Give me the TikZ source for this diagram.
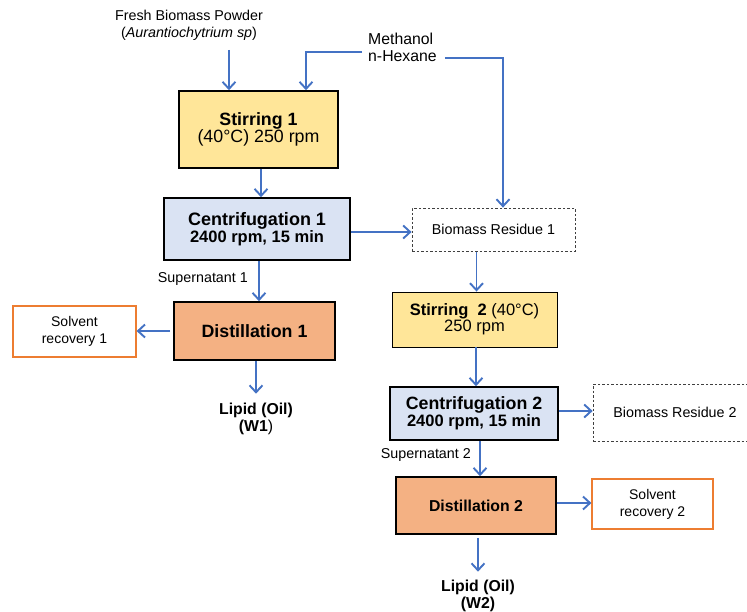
\documentclass[tikz,border=0pt]{standalone}
\usepackage{fontspec}
\setmainfont{Liberation Sans}
\usetikzlibrary{arrows.meta,calc}
\definecolor{arrblue}{HTML}{4472C4}
\definecolor{yelfill}{HTML}{FFE699}
\definecolor{bluefill}{HTML}{DAE3F3}
\definecolor{orfill}{HTML}{F4B183}
\definecolor{orline}{HTML}{ED7D31}
\newcommand{\fs}[2]{\fontsize{#1}{#2}\selectfont}
\begin{document}
\begin{tikzpicture}[x=1pt,y=-1pt,
  arr/.style={draw=arrblue,line width=1.9pt,-{Straight Barb[length=7pt,width=13pt]}},
  procbox/.style={draw=black,line width=1.6pt,align=center,inner sep=0pt},
  dashbox/.style={draw=black!75,line width=0.8pt,dash pattern=on 2.5pt off 2pt,align=center,inner sep=0pt,fill=white},
  recbox/.style={draw=orline,line width=1.2pt,align=center,inner sep=0pt,fill=white,font=\fs{14}{17}},
  lbl/.style={align=center,inner sep=0pt}]
\useasboundingbox (0,0) rectangle (747,611);
\fill[white] (0,0) rectangle (747,611);

% inputs
\node[lbl,font=\fs{14.3}{17}] (fresh) at (189,25.5) {Fresh Biomass Powder\\(\textit{Aurantiochytrium sp})};
\node[lbl,align=left,anchor=west,font=\fs{15.8}{17}] (meth) at (368,47.5) {Methanol\\n-Hexane};

% process boxes
\node[procbox,fill=yelfill,minimum width=159pt,minimum height=77pt] (s1) at (258.5,129.5)
  {\fs{17.8}{21}\textbf{Stirring 1}\\\fs{17.8}{21}(40°C) 250 rpm};
\node[procbox,fill=bluefill,minimum width=186pt,minimum height=62pt] (c1) at (257,229)
  {\fs{18}{20}\textbf{Centrifugation 1}\\\fs{16.5}{20}\textbf{2400 rpm, 15 min}};
\node[dashbox,minimum width=163pt,minimum height=43pt,font=\fs{14.3}{17}] (r1) at (493.5,229.5) {Biomass Residue 1};
\node[procbox,line width=0.9pt,fill=yelfill,minimum width=165pt,minimum height=55pt] (s2) at (474.5,319.5)
  {\fs{16.5}{20}\textbf{Stirring\ \ 2} (40°C)\\\fs{16.5}{20}250 rpm};
\node[procbox,fill=bluefill,minimum width=168pt,minimum height=53pt] (c2) at (474,413.5)
  {\fs{17.8}{20}\textbf{Centrifugation 2}\\\fs{16.5}{20}\textbf{2400 rpm, 15 min}};
\node[dashbox,minimum width=164pt,minimum height=57pt,font=\fs{14.3}{17}] (r2) at (675,412.5) {Biomass Residue 2};
\node[procbox,fill=orfill,minimum width=161pt,minimum height=58pt,font=\fs{17.8}{20}\bfseries] (d1) at (254.5,331) {Distillation 1};
\node[recbox,minimum width=123pt,minimum height=51pt] (sr1) at (74.5,331.5) {Solvent\\recovery 1};
\node[procbox,fill=orfill,minimum width=160pt,minimum height=57pt,font=\fs{15.8}{20}\bfseries] (d2) at (476,505.5) {Distillation 2};
\node[recbox,minimum width=121pt,minimum height=50pt] (sr2) at (652.5,504) {Solvent\\recovery 2};

% outputs / labels
\node[lbl,font=\fs{15.8}{17.5}] (lip1) at (256,419) {\textbf{Lipid (Oil)}\\\textbf{(W1})};
\node[lbl,font=\fs{15.8}{17.5}] (lip2) at (478,596) {\textbf{Lipid (Oil)}\\\textbf{(W2)}};
\node[lbl,anchor=east,font=\fs{14.3}{17}] (sup1) at (248,279) {Supernatant 1};
\node[lbl,anchor=east,font=\fs{14.3}{17}] (sup2) at (471,455) {Supernatant 2};

% connectors
\draw[arr] ($(fresh.south -| s1.north)+(-29.5,9)$) -- ([xshift=-29.5pt]s1.north);
\draw[arr] ([xshift=-6pt,yshift=-4.5pt]meth.west) -| ([xshift=47.5pt]s1.north);
\draw[arr] ([xshift=8pt,yshift=-10.5pt]meth.east) -| ([xshift=9.5pt]r1.north);
\draw[arr] ([xshift=2.5pt]s1.south) -- ([xshift=2.5pt]s1.south |- c1.north);
\draw[arr] ([yshift=-3pt]c1.east) -- ([yshift=-3pt]c1.east -| r1.west);
\draw[arr] ([xshift=2pt]c1.south) -- ([xshift=2pt]c1.south |- d1.north);
\draw[arr] ([xshift=-3pt]d1.west) -- (d1.west -| sr1.east);
\draw[arr,shorten >=9pt] ([xshift=1.5pt]d1.south) -- ([xshift=1.5pt]d1.south |- lip1.north);
\draw[arr] ($(r1.south)+(-17,1)$) -- ($(r1.south |- s2.north)+(-17,0)$);
\draw[arr] ([xshift=1.5pt]s2.south) -- ([xshift=1.5pt]s2.south |- c2.north);
\draw[arr] ([yshift=2.5pt]c2.east) -- ([yshift=2.5pt]c2.east -| r2.west);
\draw[arr] ([xshift=6pt]c2.south) -- ([xshift=6pt]c2.south |- d2.north);
\draw[arr] ([yshift=2.5pt]d2.east) -- ([yshift=2.5pt]d2.east -| sr2.west);
\draw[arr,shorten >=8pt] ([xshift=2pt,yshift=-3pt]d2.south) -- ([xshift=2pt]d2.south |- lip2.north);
\end{tikzpicture}
\end{document}
